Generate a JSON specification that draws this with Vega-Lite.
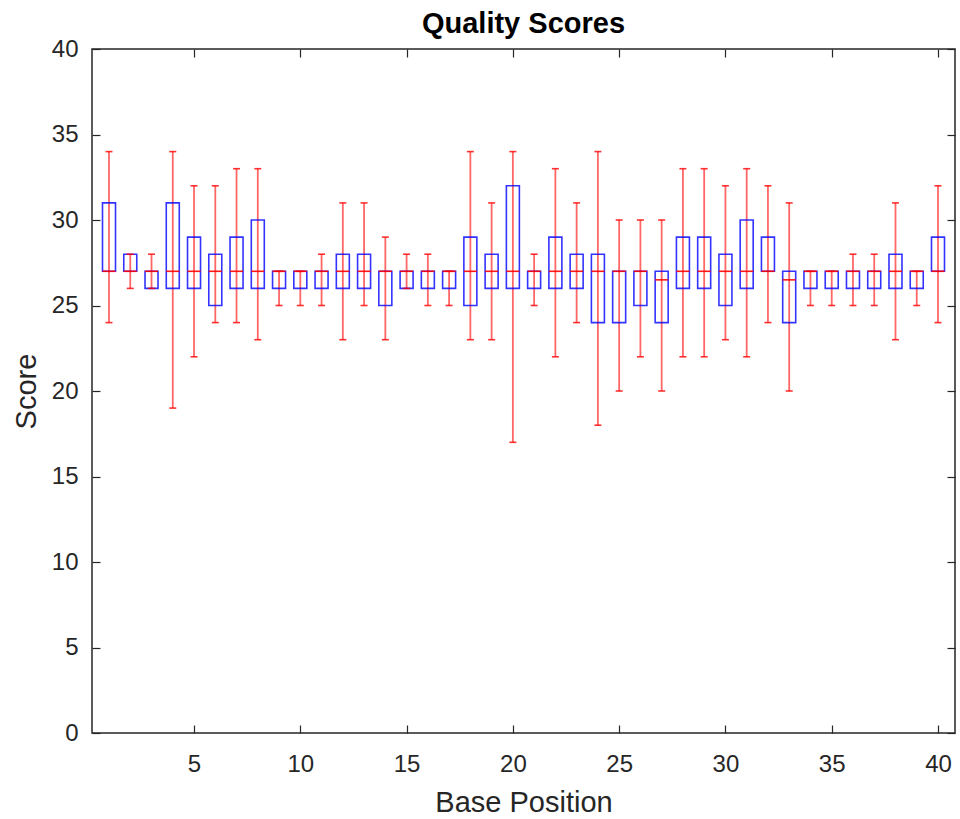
{
  "$schema": "https://vega.github.io/schema/vega-lite/v6.json",
  "width": 863,
  "height": 684,
  "autosize": {"type": "none"},
  "padding": {"left": 92, "top": 49, "right": 5, "bottom": 86},
  "background": "white",
  "config": {
    "view": {"stroke": "#262626", "strokeWidth": 1.5},
    "font": "Liberation Sans",
    "axis": {
      "grid": false,
      "domain": false,
      "tickSize": 8,
      "offset": -8,
      "tickColor": "#262626",
      "tickWidth": 1.2,
      "labelColor": "#262626",
      "labelFontSize": 24,
      "labelFont": "Liberation Sans",
      "titleColor": "#262626",
      "titleFontSize": 29,
      "titleFontWeight": "normal",
      "titleFont": "Liberation Sans"
    }
  },
  "title": {
    "text": "Quality Scores",
    "font": "Liberation Sans",
    "fontSize": 29,
    "fontWeight": "bold",
    "color": "#000000",
    "anchor": "middle",
    "offset": 12,
    "dy": 14
  },
  "data": {
    "values": [
      {"pos": 1, "lo": 24, "q1": 27, "med": 27, "q3": 31, "hi": 34},
      {"pos": 2, "lo": 26, "q1": 27, "med": 27, "q3": 28, "hi": 28},
      {"pos": 3, "lo": 26, "q1": 26, "med": 27, "q3": 27, "hi": 28},
      {"pos": 4, "lo": 19, "q1": 26, "med": 27, "q3": 31, "hi": 34},
      {"pos": 5, "lo": 22, "q1": 26, "med": 27, "q3": 29, "hi": 32},
      {"pos": 6, "lo": 24, "q1": 25, "med": 27, "q3": 28, "hi": 32},
      {"pos": 7, "lo": 24, "q1": 26, "med": 27, "q3": 29, "hi": 33},
      {"pos": 8, "lo": 23, "q1": 26, "med": 27, "q3": 30, "hi": 33},
      {"pos": 9, "lo": 25, "q1": 26, "med": 27, "q3": 27, "hi": 27},
      {"pos": 10, "lo": 25, "q1": 26, "med": 27, "q3": 27, "hi": 27},
      {"pos": 11, "lo": 25, "q1": 26, "med": 27, "q3": 27, "hi": 28},
      {"pos": 12, "lo": 23, "q1": 26, "med": 27, "q3": 28, "hi": 31},
      {"pos": 13, "lo": 25, "q1": 26, "med": 27, "q3": 28, "hi": 31},
      {"pos": 14, "lo": 23, "q1": 25, "med": 27, "q3": 27, "hi": 29},
      {"pos": 15, "lo": 26, "q1": 26, "med": 27, "q3": 27, "hi": 28},
      {"pos": 16, "lo": 25, "q1": 26, "med": 27, "q3": 27, "hi": 28},
      {"pos": 17, "lo": 25, "q1": 26, "med": 27, "q3": 27, "hi": 27},
      {"pos": 18, "lo": 23, "q1": 25, "med": 27, "q3": 29, "hi": 34},
      {"pos": 19, "lo": 23, "q1": 26, "med": 27, "q3": 28, "hi": 31},
      {"pos": 20, "lo": 17, "q1": 26, "med": 27, "q3": 32, "hi": 34},
      {"pos": 21, "lo": 25, "q1": 26, "med": 27, "q3": 27, "hi": 28},
      {"pos": 22, "lo": 22, "q1": 26, "med": 27, "q3": 29, "hi": 33},
      {"pos": 23, "lo": 24, "q1": 26, "med": 27, "q3": 28, "hi": 31},
      {"pos": 24, "lo": 18, "q1": 24, "med": 27, "q3": 28, "hi": 34},
      {"pos": 25, "lo": 20, "q1": 24, "med": 27, "q3": 27, "hi": 30},
      {"pos": 26, "lo": 22, "q1": 25, "med": 27, "q3": 27, "hi": 30},
      {"pos": 27, "lo": 20, "q1": 24, "med": 26.5, "q3": 27, "hi": 30},
      {"pos": 28, "lo": 22, "q1": 26, "med": 27, "q3": 29, "hi": 33},
      {"pos": 29, "lo": 22, "q1": 26, "med": 27, "q3": 29, "hi": 33},
      {"pos": 30, "lo": 23, "q1": 25, "med": 27, "q3": 28, "hi": 32},
      {"pos": 31, "lo": 22, "q1": 26, "med": 27, "q3": 30, "hi": 33},
      {"pos": 32, "lo": 24, "q1": 27, "med": 27, "q3": 29, "hi": 32},
      {"pos": 33, "lo": 20, "q1": 24, "med": 26.5, "q3": 27, "hi": 31},
      {"pos": 34, "lo": 25, "q1": 26, "med": 27, "q3": 27, "hi": 27},
      {"pos": 35, "lo": 25, "q1": 26, "med": 27, "q3": 27, "hi": 27},
      {"pos": 36, "lo": 25, "q1": 26, "med": 27, "q3": 27, "hi": 28},
      {"pos": 37, "lo": 25, "q1": 26, "med": 27, "q3": 27, "hi": 28},
      {"pos": 38, "lo": 23, "q1": 26, "med": 27, "q3": 28, "hi": 31},
      {"pos": 39, "lo": 25, "q1": 26, "med": 27, "q3": 27, "hi": 27},
      {"pos": 40, "lo": 24, "q1": 27, "med": 27, "q3": 29, "hi": 32}
    ]
  },
  "resolve": {"axis": {"x": "independent", "y": "independent"}},
  "layer": [
    {
      "mark": {"type": "rule", "color": "#ff0000", "strokeWidth": 1.8, "opacity": 0.6},
      "encoding": {
        "x": {
          "field": "pos", "type": "quantitative",
          "scale": {"domain": [0.2, 40.8], "nice": false, "zero": false, "padding": 0},
          "axis": {"orient": "bottom", "values": [5, 10, 15, 20, 25, 30, 35, 40], "title": "Base Position", "labelPadding": 19, "titlePadding": 12}
        },
        "y": {
          "field": "lo", "type": "quantitative",
          "scale": {"domain": [0, 40], "nice": false, "zero": false, "padding": 0},
          "axis": {"orient": "left", "values": [0, 5, 10, 15, 20, 25, 30, 35, 40], "title": "Score", "labelPadding": 14, "titlePadding": 10}
        },
        "y2": {"field": "hi"}
      }
    },
    {
      "mark": {"type": "bar", "width": 13, "fill": "white", "fillOpacity": 0, "stroke": "#0000ff", "strokeWidth": 1.6, "strokeOpacity": 0.8},
      "encoding": {
        "x": {"field": "pos", "type": "quantitative", "axis": {"orient": "top", "values": [5, 10, 15, 20, 25, 30, 35, 40], "labels": false, "title": null}},
        "y": {"field": "q1", "type": "quantitative", "axis": {"orient": "right", "values": [0, 5, 10, 15, 20, 25, 30, 35, 40], "labels": false, "title": null}},
        "y2": {"field": "q3"}
      }
    },
    {
      "mark": {"type": "tick", "orient": "horizontal", "size": 13, "thickness": 1.6, "color": "#ff0000", "opacity": 0.9},
      "encoding": {
        "x": {"field": "pos", "type": "quantitative", "axis": null},
        "y": {"field": "med", "type": "quantitative", "axis": null}
      }
    },
    {
      "mark": {"type": "tick", "orient": "horizontal", "size": 7, "thickness": 1.6, "color": "#ff0000", "opacity": 0.8},
      "encoding": {
        "x": {"field": "pos", "type": "quantitative", "axis": null},
        "y": {"field": "lo", "type": "quantitative", "axis": null}
      }
    },
    {
      "mark": {"type": "tick", "orient": "horizontal", "size": 7, "thickness": 1.6, "color": "#ff0000", "opacity": 0.8},
      "encoding": {
        "x": {"field": "pos", "type": "quantitative", "axis": null},
        "y": {"field": "hi", "type": "quantitative", "axis": null}
      }
    }
  ]
}
